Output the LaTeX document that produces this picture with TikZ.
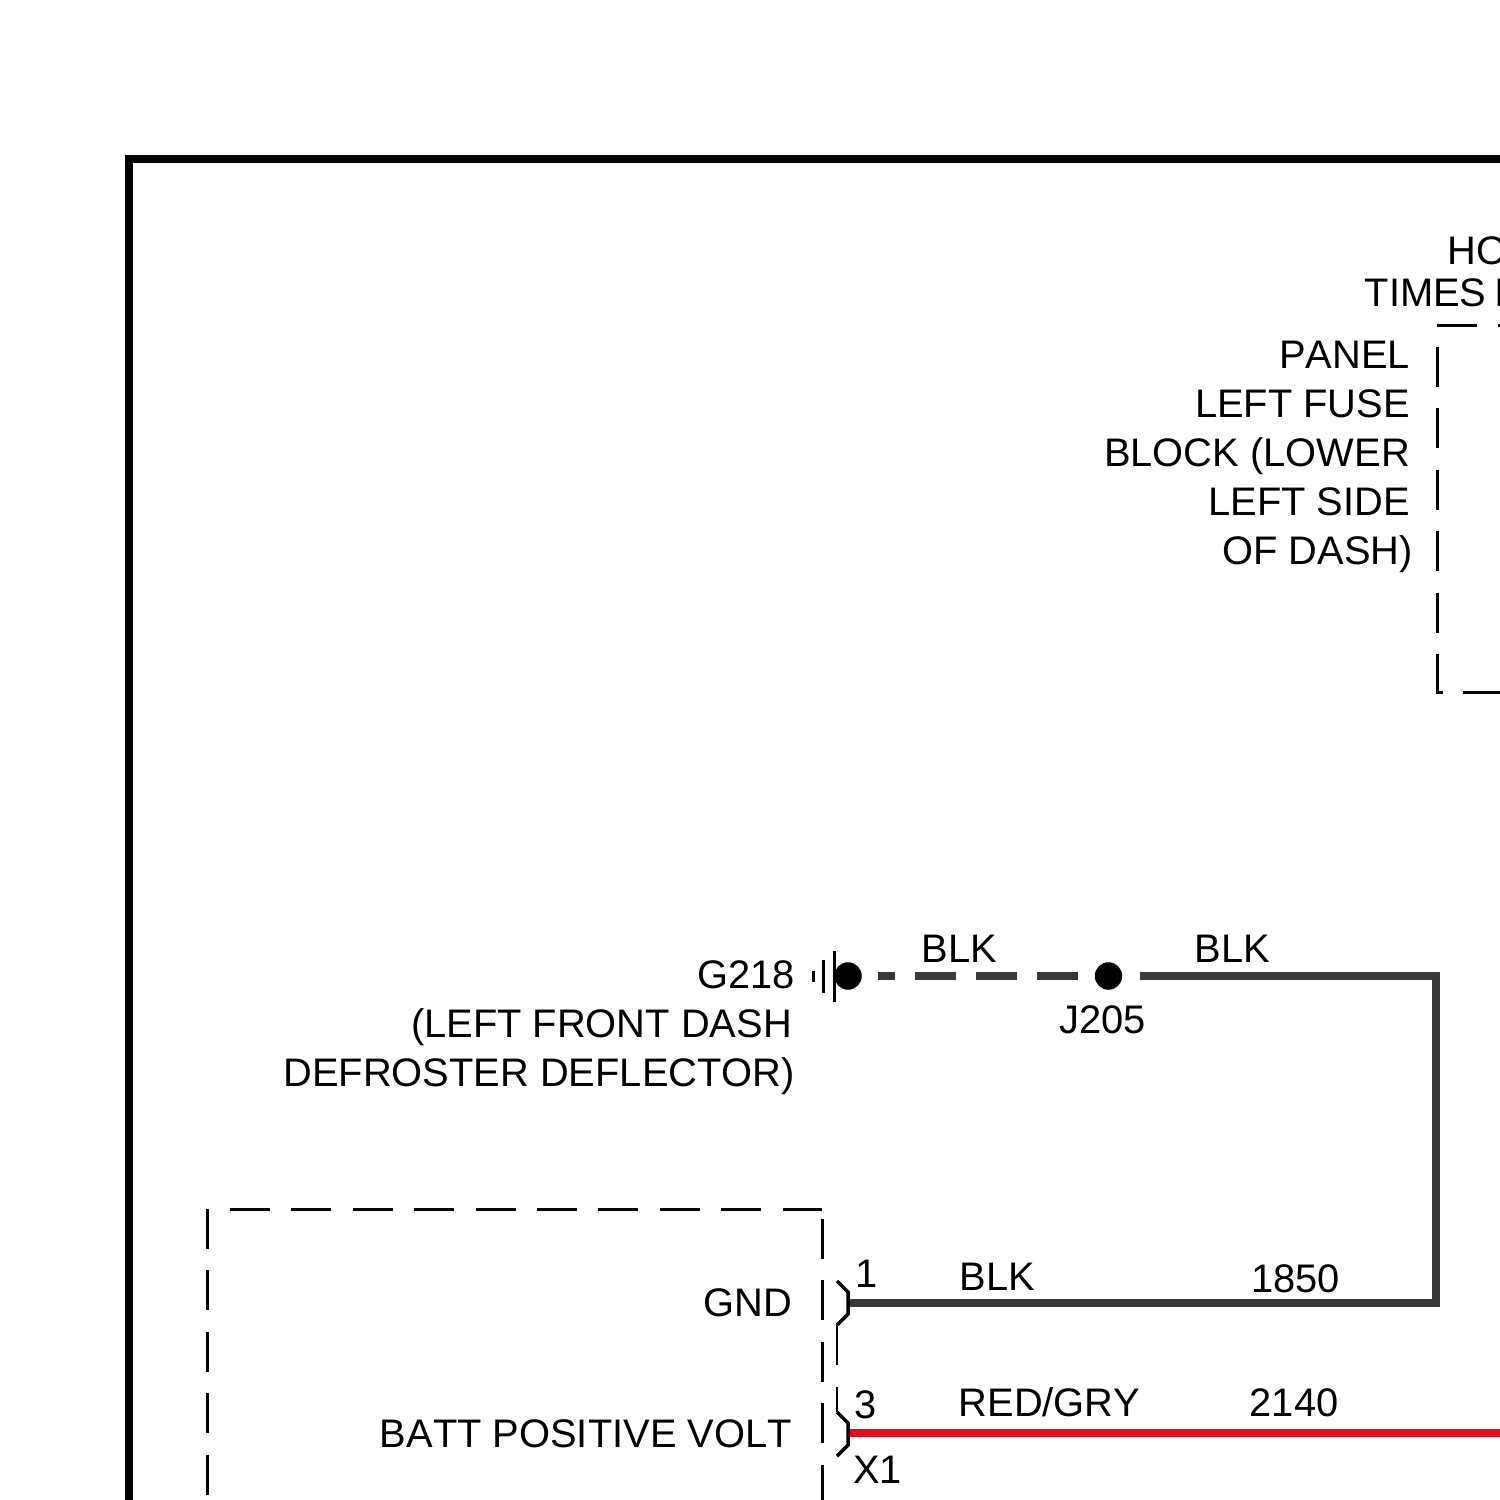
\documentclass[tikz,border=0pt]{standalone}
\usepackage{fontspec}
\setmainfont[Kerning=Off]{Liberation Sans}
\tikzset{
lbl/.style={inner sep=0pt, font=\fontsize{40}{49}\selectfont},
lblw/.style={lbl, anchor=base west},
lble/.style={lbl, anchor=base east},
splice/.style={circle, fill=black, inner sep=0pt, minimum size=27.5bp},
wireblk/.style={line width=8bp, color=wiregray},
wirered/.style={line width=7.5bp, color=wirered},
boxdash/.style={line width=3bp, dash pattern=on 40bp off 21.4bp},
gndbar/.style={line width=3bp},
pinhook/.style={line width=3.5bp},
}
\definecolor{wiregray}{HTML}{383838}
\definecolor{wirered}{HTML}{E30B1C}
\begin{document}
\begin{tikzpicture}[x=1bp,y=-1bp]
\useasboundingbox (0,0) rectangle (1500,1500);
\clip (0,0) rectangle (1500,1500);
\fill[white] (0,0) rectangle (1500,1500);

\draw[line width=8.5bp] (129,1520) -- (129,159) -- (1520,159);

% fuse block outline
\draw[boxdash] (1437,347) -- (1437,692);
\draw[line width=3bp] (1437,655) -- (1437,692) -- (1443,692);
\draw[boxdash] (1437,325) -- (1520,325);
\draw[boxdash] (1463,692) -- (1520,692);

% module outline
\draw[boxdash] (207,1209) -- (207,1520);
\draw[boxdash] (230,1209) -- (822,1209);
\draw[boxdash] (822,1219) -- (822,1520);

\node (hot) at (1447.5,264) [lblw] {HO};
\node (times) at (1364.5,306) [lblw] {TIMES\hspace{8bp}I};
\node (panel) at (1410,368) [lble] {PANEL};
\node (fuse) at (1410,417) [lble] {LEFT FUSE};
\node (block) at (1410,466) [lble] {BLOCK (LOWER};
\node (side) at (1410,515) [lble] {LEFT SIDE};
\node (dash) at (1413,564) [lble] {OF DASH)};

\node (g218) at (795,988) [lble] {G218};
\node (front) at (792,1037) [lble] {(LEFT FRONT DASH};
\node (defl) at (795,1086) [lble] {DEFROSTER DEFLECTOR)};
\node (gnd) at (792,1316) [lble] {GND};
\node (batt) at (792,1447) [lble] {BATT POSITIVE VOLT};

\node (dot0) at (848,976) [splice] {};
\node (dot1) at (1108.5,976) [splice] {};
\coordinate (bend0) at (1436,976);
\coordinate (bend1) at (1436,1303);
\coordinate (pin1) at (848,1303);
\coordinate (pin3) at (848,1433);
\coordinate (redend) at (1520,1433);

\draw[gndbar] (834,951) -- (834,1002)
(823.5,960) -- (823.5,993)
(813,971) -- (813,982);

\draw[wireblk, shorten <=16.5bp, shorten >=15.5bp, dash pattern=on 17bp off 20bp on 41bp off 20bp on 41bp off 20bp on 41bp off 20bp] (dot0) -- (dot1);
\draw[wireblk, shorten <=17.5bp, line join=miter] (dot1) -- (bend0) -- (bend1) -- (pin1);
\draw[wirered] (pin3) -- (redend);

\draw[pinhook] (837,1281) -- (848,1292) -- (848,1314) -- (837,1325);
\draw[line width=2bp] (837,1325) -- (837,1365);
\draw[line width=2bp] (837,1387) -- (837,1412);
\draw[pinhook] (837,1412) -- (848,1423) -- (848,1445) -- (837,1456);

\node (blk0) at (921.5,962) [lblw] {BLK};
\node (blk1) at (1194.5,962) [lblw] {BLK};
\node (j205) at (1059.5,1033) [lblw] {J205};
\node (blk2) at (959.5,1290) [lblw] {BLK};
\node (n1850) at (1251,1292) [lblw] {1850};
\node (n1) at (855,1287) [lblw] {1};
\node (n3) at (854,1418) [lblw] {3};
\node (redgry) at (958.5,1416) [lblw] {RED/GRY};
\node (n2140) at (1249.5,1416) [lblw] {2140};
\node (x1) at (853,1483) [lblw] {X1};
\end{tikzpicture}
\end{document}
